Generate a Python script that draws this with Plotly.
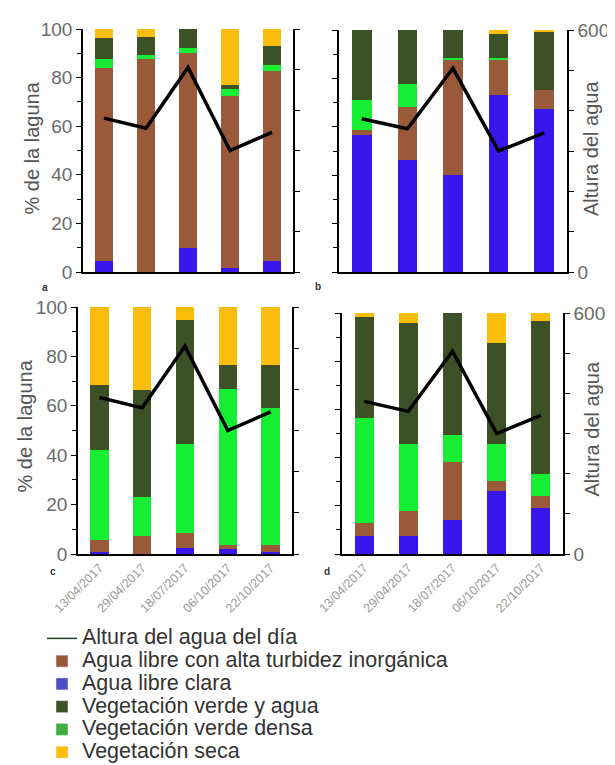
import plotly.graph_objects as go

W, H = 615, 765
OFF = 8  # page body margin of the rendered html


def X(px):
    return (px - OFF) / W


def Y(py):
    return 1 - (py - OFF) / H


dates = ["13/04/2017", "29/04/2017", "18/07/2017", "06/10/2017", "22/10/2017"]
water_height = [380, 355, 505, 300, 345]

series_names = [
    "Agua libre clara",
    "Agua libre con alta turbidez inorgánica",
    "Vegetación verde densa",
    "Vegetación verde y agua",
    "Vegetación seca",
]
series_colors = ["#3a16ee", "#9a5a3a", "#16ee34", "#3c5226", "#fbbd0c"]
legend_colors = ["#4a4fc0", "#9a5a3a", "#3fae3f", "#3c5226", "#fbbd0c"]
legend_ranks = [3, 2, 5, 4, 6]

# panel a
a_clara = [4.4, 0, 9.9, 1.6, 4.7]
a_turbia = [79.6, 87.7, 80.1, 70.7, 77.9]
a_densa = [3.7, 1.7, 2.0, 3.0, 2.7]
a_verde_agua = [8.8, 7.3, 8.0, 1.7, 7.6]
a_seca = [3.5, 3.3, 0, 23.0, 7.1]
# panel b
b_clara = [56.5, 46.2, 40.0, 73.0, 67.5]
b_turbia = [2.1, 22.0, 47.4, 14.7, 7.8]
b_densa = [12.3, 9.6, 1.1, 0.8, 0]
b_verde_agua = [29.1, 22.2, 11.5, 10.0, 23.7]
b_seca = [0, 0, 0, 1.5, 1.0]
# panel c
c_clara = [1.0, 0, 2.4, 2.0, 1.0]
c_turbia = [4.8, 7.1, 6.1, 1.8, 2.8]
c_densa = [36.3, 15.9, 36.0, 63.2, 55.2]
c_verde_agua = [26.3, 43.4, 50.1, 9.4, 17.4]
c_seca = [31.6, 33.6, 5.4, 23.6, 23.6]
# panel d
d_clara = [7.4, 7.4, 14.3, 26.0, 19.1]
d_turbia = [5.5, 10.4, 23.8, 4.2, 4.9]
d_densa = [43.7, 27.7, 11.1, 15.3, 9.0]
d_verde_agua = [41.6, 50.5, 50.8, 42.0, 63.8]
d_seca = [1.8, 4.0, 0, 12.5, 3.2]

panels = [
    [a_clara, a_turbia, a_densa, a_verde_agua, a_seca],
    [b_clara, b_turbia, b_densa, b_verde_agua, b_seca],
    [c_clara, c_turbia, c_densa, c_verde_agua, c_seca],
    [d_clara, d_turbia, d_densa, d_verde_agua, d_seca],
]
panel_labels = ["a", "b", "c", "d"]

# pixel boxes in screenshot coords (left, right, top, bottom)
boxes = [(83, 293, 29, 272), (339, 567, 30, 272), (78, 292, 307, 554), (342, 563, 313, 554)]
label_pos = [(45, 287), (318, 286), (53, 571), (327, 571)]
left_title_x = [31, 24]
right_title_x = [591, 591]

FONT = "Liberation Sans, Arial, sans-serif"
fig = go.Figure()

for p, data in enumerate(panels):
    xid = "x" if p == 0 else f"x{p+1}"
    yl = 2 * p + 1
    yr = 2 * p + 2
    ylid = "y" if yl == 1 else f"y{yl}"
    yrid = f"y{yr}"
    for k, vals in enumerate(data):
        fig.add_trace(go.Bar(
            x=dates, y=vals, name=series_names[k], width=0.43,
            marker=dict(color=series_colors[k], line=dict(width=0)),
            xaxis=xid, yaxis=ylid, showlegend=False, legendgroup=series_names[k],
        ))
    fig.add_trace(go.Scatter(
        x=dates, y=water_height, mode="lines", name="Altura del agua del día",
        line=dict(color="black", width=3.5), xaxis=xid, yaxis=yrid,
        showlegend=False, legendgroup="line",
    ))

BIG = '<span style="font-size:21.5px">%s</span>'
# legend-only entries
fig.add_trace(go.Scatter(x=[None], y=[None], mode="lines", name=BIG % "Altura del agua del día",
                         line=dict(color="#2a3a2a", width=1.5), legendrank=1, showlegend=True))
for k in range(5):
    fig.add_trace(go.Bar(x=[None], y=[None], name=BIG % series_names[k],
                         marker=dict(color=legend_colors[k]), legendrank=legend_ranks[k], showlegend=True))

layout = dict(
    width=W, height=H, margin=dict(l=0, r=0, t=0, b=0, autoexpand=False),
    paper_bgcolor="white", plot_bgcolor="rgba(0,0,0,0)",
    barmode="stack", font=dict(family=FONT, color="#555"),
    showlegend=True,
    legend=dict(x=X(42), y=Y(622), xanchor="left", yanchor="top",
                font=dict(size=15.2, color="#333", family=FONT),
                bgcolor="rgba(0,0,0,0)", traceorder="normal", itemwidth=30,
                tracegroupgap=0),
)

annotations = []
for p in range(4):
    l, r, t, b = boxes[p]
    xd = [X(l), X(r)]
    yd = [Y(b), Y(t)]
    xkey = "xaxis" if p == 0 else f"xaxis{p+1}"
    yl = 2 * p + 1
    yr = 2 * p + 2
    ylkey = "yaxis" if yl == 1 else f"yaxis{yl}"
    yrkey = f"yaxis{yr}"
    ylid = "y" if yl == 1 else f"y{yl}"
    xid = "x" if p == 0 else f"x{p+1}"
    bottom_row = p >= 2
    left_col = p % 2 == 0
    layout[xkey] = dict(
        domain=xd, anchor=ylid, range=[-0.5, 4.5], type="category",
        showline=True, linecolor="black", linewidth=1.5, ticks="",
        showgrid=False, zeroline=False,
        showticklabels=bottom_row, tickangle=-45,
        tickfont=dict(size=12.5, color="#999", family=FONT),
    )
    layout[ylkey] = dict(
        domain=yd, anchor=xid, range=[0, 100], dtick=20, tick0=0,
        showline=True, linecolor="black", linewidth=1.5,
        ticks="outside", ticklen=5, tickcolor="black", tickwidth=1,
        minor=dict(dtick=10, ticks="outside", ticklen=4, tickcolor="black"),
        showgrid=False, zeroline=False, showticklabels=left_col,
        tickfont=dict(size=19, color="#6a6a6a", family=FONT),
    )
    layout[yrkey] = dict(
        overlaying=ylid, side="right", anchor=xid, range=[0, 600],
        tickvals=[0, 100, 200, 300, 400, 500, 600],
        ticktext=["0", "", "", "", "", "", "600"],
        showline=True, linecolor="black", linewidth=1.5,
        ticks="outside", ticklen=5, tickcolor="black",
        showgrid=False, zeroline=False, showticklabels=not left_col,
        tickfont=dict(size=19, color="#6a6a6a", family=FONT),
    )
    lx, ly = label_pos[p]
    annotations.append(dict(x=X(lx), y=Y(ly), xref="paper", yref="paper",
                            xanchor="center", yanchor="middle",
                            text="<b>%s</b>" % panel_labels[p], showarrow=False,
                            font=dict(size=10, color="#333", family=FONT)))
    cy = (t + b) / 2 + (-2 if p < 2 else -4)
    row = p // 2
    if left_col:
        annotations.append(dict(x=X(left_title_x[row]), y=Y(cy), xref="paper", yref="paper",
                                xanchor="center", yanchor="middle",
                                text="% de la laguna", textangle=-90, showarrow=False,
                                font=dict(size=20, color="#555", family=FONT)))
    else:
        annotations.append(dict(x=X(right_title_x[row]), y=Y(cy), xref="paper", yref="paper",
                                xanchor="center", yanchor="middle",
                                text="Altura del agua", textangle=-90, showarrow=False,
                                font=dict(size=20, color="#555", family=FONT)))

layout["annotations"] = annotations
fig.update_layout(**layout)
fig.write_html("out.html")
